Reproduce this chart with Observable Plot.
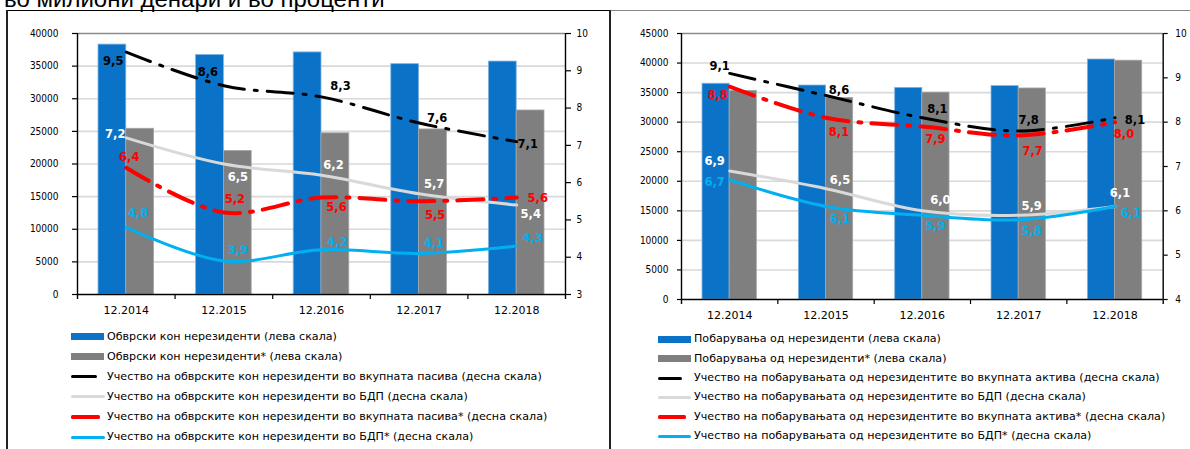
<!DOCTYPE html>
<html><head><meta charset="utf-8">
<script src="https://cdn.jsdelivr.net/npm/d3@7"></script>
<script src="https://cdn.jsdelivr.net/npm/@observablehq/plot@0.6"></script>
<style>
html,body{margin:0;padding:0;background:#fff;}
#root{position:relative;width:1190px;height:449px;overflow:hidden;background:#fff;}
.abs{position:absolute;}
.title{position:absolute;left:4px;top:-13.5px;font-family:"Liberation Sans",Arial,sans-serif;font-size:24px;line-height:24px;color:#000;white-space:nowrap;}
.legtxt{position:absolute;font-family:"DejaVu Sans",Verdana,sans-serif;font-size:11.1px;line-height:14px;color:#000;white-space:nowrap;}
.chart{position:absolute;top:0;}
.chart svg{position:absolute;left:0;top:0;max-width:none !important;}
</style></head><body>
<div id="root">
  <div class="title">во милиони денари и во проценти</div>
</div>
<script>
// ---------- data ----------
const categories = ["12.2014", "12.2015", "12.2016", "12.2017", "12.2018"];

// Left panel: liabilities to non-residents
const liabilities      = [38300, 36700, 37100, 35300, 35700];
const liabilitiesAdj   = [25400, 22000, 24700, 25300, 28200];
const liabShareTotal   = [9.5, 8.6, 8.3, 7.6, 7.1];
const liabShareGdp     = [7.2, 6.5, 6.2, 5.7, 5.4];
const liabShareTotalAdj= [6.4, 5.2, 5.6, 5.5, 5.6];
const liabShareGdpAdj  = [4.8, 3.9, 4.2, 4.1, 4.3];
const leftTicksL  = [0, 5000, 10000, 15000, 20000, 25000, 30000, 35000, 40000];
const rightTicksL = [3, 4, 5, 6, 7, 8, 9, 10];
const leftLegend = [
  "Обврски кон нерезиденти (лева скала)",
  "Обврски кон нерезиденти* (лева скала)",
  "Учество на обврските кон нерезиденти во вкупната пасива (десна скала)",
  "Учество на обврските кон нерезиденти во БДП (десна скала)",
  "Учество на обврските кон нерезиденти во вкупната пасива* (десна скала)",
  "Учество на обврските кон нерезиденти во БДП* (десна скала)"
];

// Right panel: claims on non-residents
const claims           = [36500, 36200, 35800, 36100, 40600];
const claimsAdj        = [35300, 34100, 35000, 35700, 40400];
const claimShareTotal  = [9.1, 8.6, 8.1, 7.8, 8.1];
const claimShareGdp    = [6.9, 6.5, 6.0, 5.9, 6.1];
const claimShareTotalAdj = [8.8, 8.1, 7.9, 7.7, 8.0];
const claimShareGdpAdj = [6.7, 6.1, 5.9, 5.8, 6.1];
const leftTicksR  = [0, 5000, 10000, 15000, 20000, 25000, 30000, 35000, 40000, 45000];
const rightTicksR = [4, 5, 6, 7, 8, 9, 10];
const rightLegend = [
  "Побарувања од нерезиденти (лева скала)",
  "Побарувања од нерезиденти* (лева скала)",
  "Учество на побарувањата од нерезидентите во вкупната актива (десна скала)",
  "Учество на побарувањата од нерезидентите во БДП (десна скала)",
  "Учество на побарувањата од нерезидентите во вкупната актива* (десна скала)",
  "Учество на побарувањата од нерезидентите во БДП* (десна скала)"
];

// ---------- styling / label placement (pixels) ----------
const COL = {blue: "#0b73c7", gray: "#7f7f7f", black: "#000000", lgray: "#d9d9d9", red: "#ff0000", cyan: "#00b0f0"};
const DASH = "26,10,3,10";
const nudgeL = {
  black: [[-13, 9], [-16, -13], [19, -11], [18, -5], [11, 3]],
  lgray: [[-11, -4], [14, 13], [12, -10], [15, -10], [14, 9]],
  red:   [[3, -10], [11, -13], [15, 10], [16, 14], [21, 1]],
  cyan:  [[12, -14], [14, -11], [16, -7], [15, -10], [16, -8]]
};
const nudgeR = {
  black: [[-10, -7], [13, -5], [15, -8], [10, -11], [20, 3]],
  lgray: [[-15, -10], [14, -8], [18, -11], [13, -9], [5, -13]],
  red:   [[-12, 9], [13, 15], [13, 13], [14, 16], [9, 12]],
  cyan:  [[-15, 3], [14, 13], [13, 11], [13, 12], [16, 7]]
};

const fmt = v => d3.format(".1f")(v).replace(".", ",");
const rows = vals => categories.map((c, i) => ({cat: c, value: vals[i]}));

function panel(cfg) {
  const {left, width, height, mL, mR, mT, mB, yDomain, yTicks, y2Domain, y2Ticks, barsA, barsB, lines, axL, axR} = cfg;
  const bw = (width - mL - mR) / categories.length;
  const outer = 21;
  const common = {
    width, height, marginLeft: mL, marginRight: mR, marginTop: mT, marginBottom: mB,
    x: {type: "band", domain: categories, padding: 0, round: false}
  };
  const style = {background: "transparent", fontFamily: "DejaVu Sans Condensed", fontSize: "10px", color: "#000", overflow: "visible"};
  const base = Plot.plot({
    ...common,
    y: {domain: yDomain},
    style,
    marks: [
      Plot.ruleY(yTicks.slice(1, -1), {stroke: COL.lgray, strokeWidth: 1.6}),
      Plot.ruleY([yDomain[1]], {stroke: "#8a8a8a", strokeWidth: 1.6}),
      Plot.barY(rows(barsA), {x: "cat", y: "value", fill: COL.blue, stroke: "#7fb4e3", strokeWidth: 0.8, insetLeft: outer, insetRight: bw / 2}),
      Plot.barY(rows(barsB), {x: "cat", y: "value", fill: COL.gray, stroke: "#a6a6a6", strokeWidth: 0.8, insetLeft: bw / 2, insetRight: outer}),
      Plot.ruleY([0], {stroke: "#000", strokeWidth: 1.4}),
      Plot.ruleX([categories[0]], {dx: -bw / 2, stroke: "#000", strokeWidth: 1.4, insetBottom: -5}),
      Plot.ruleX([categories[categories.length - 1]], {dx: bw / 2, stroke: "#000", strokeWidth: 1.4, insetBottom: -5}),
      Plot.ruleX(categories.slice(1), {dx: -bw / 2, y1: 0, y2: 0, insetBottom: -5, stroke: "#000", strokeWidth: 1.2}),
      Plot.axisY({anchor: "left", ticks: yTicks, tickSize: axL.size, tickPadding: axL.pad, tickFormat: d => String(d), label: null, strokeWidth: 1.2}),
      Plot.axisX({anchor: "bottom", tickSize: 0, tickPadding: 12, label: null, fontSize: 11, fontFamily: "DejaVu Sans"})
    ]
  });
  const labelMarks = [];
  for (const s of lines) {
    s.values.forEach((v, i) => {
      labelMarks.push(Plot.text([{cat: categories[i], value: v}], {
        x: "cat", y: "value", text: d => fmt(d.value),
        dx: s.nudge[i][0], dy: s.nudge[i][1],
        fill: s.labelColor, fontWeight: "bold", fontSize: 11.5, fontFamily: "DejaVu Sans",
        textAnchor: "middle", lineAnchor: "middle"
      }));
    });
  }
  const over = Plot.plot({
    ...common,
    x: {...common.x, axis: null},
    y: {domain: y2Domain},
    style,
    marks: [
      ...lines.map(s => Plot.line(rows(s.values), {
        x: "cat", y: "value", curve: "catmull-rom",
        stroke: s.color, strokeWidth: s.width, strokeDasharray: s.dash
      })),
      Plot.axisY({anchor: "right", ticks: y2Ticks, tickSize: axR.size, tickPadding: axR.pad, tickFormat: d => String(d), label: null, strokeWidth: 1.2}),
      ...labelMarks
    ]
  });
  const wrap = document.createElement("div");
  wrap.className = "chart";
  wrap.style.left = left + "px";
  wrap.style.width = width + "px";
  wrap.style.height = height + "px";
  wrap.appendChild(base);
  wrap.appendChild(over);
  document.getElementById("root").appendChild(wrap);
}

function legend(items, cfg) {
  const root = document.getElementById("root");
  items.forEach((it, i) => {
    const cy = cfg.cy0 + cfg.step * i;
    const sw = document.createElement("div");
    sw.className = "abs";
    const th = it.type === "bar" ? 7 : it.thick;
    sw.style.left = cfg.x0 + "px";
    sw.style.width = it.len + "px";
    sw.style.top = (cy - th / 2) + "px";
    sw.style.height = th + "px";
    sw.style.background = it.color;
    if (it.type !== "bar") sw.style.borderRadius = "1.5px";
    root.appendChild(sw);
    const t = document.createElement("div");
    t.className = "legtxt";
    t.style.left = cfg.tx + "px";
    t.style.top = (cy - 7) + "px";
    t.textContent = it.label;
    root.appendChild(t);
  });
}

// panel frames
function line(l, t, w, h, c) {
  const d = document.createElement("div");
  d.className = "abs";
  Object.assign(d.style, {left: l + "px", top: t + "px", width: w + "px", height: h + "px", background: c});
  document.getElementById("root").appendChild(d);
}
line(6, 10, 604, 1, "#000");
line(6, 10, 2, 439, "#222");
line(609, 10, 2, 439, "#222");
line(611, 10, 579, 1, "#888");

panel({
  left: 0, width: 610, height: 330, mL: 77, mR: 45, mT: 33, mB: 36,
  yDomain: [0, 40000], yTicks: leftTicksL, y2Domain: [3, 10], y2Ticks: rightTicksL,
  barsA: liabilities, barsB: liabilitiesAdj,
  axL: {size: 5, pad: 14}, axR: {size: 5, pad: 6},
  lines: [
    {values: liabShareTotal, color: COL.black, width: 3, dash: DASH, labelColor: "#000", nudge: nudgeL.black},
    {values: liabShareGdp, color: COL.lgray, width: 3, dash: null, labelColor: "#fff", nudge: nudgeL.lgray},
    {values: liabShareTotalAdj, color: COL.red, width: 4, dash: DASH, labelColor: COL.red, nudge: nudgeL.red},
    {values: liabShareGdpAdj, color: COL.cyan, width: 3, dash: null, labelColor: COL.cyan, nudge: nudgeL.cyan}
  ]
});

panel({
  left: 610, width: 580, height: 335, mL: 71, mR: 27.3, mT: 33, mB: 36,
  yDomain: [0, 45000], yTicks: leftTicksR, y2Domain: [4, 10], y2Ticks: rightTicksR,
  barsA: claims, barsB: claimsAdj,
  axL: {size: 4, pad: 9}, axR: {size: 4, pad: 8},
  lines: [
    {values: claimShareTotal, color: COL.black, width: 3, dash: DASH, labelColor: "#000", nudge: nudgeR.black},
    {values: claimShareGdp, color: COL.lgray, width: 3, dash: null, labelColor: "#fff", nudge: nudgeR.lgray},
    {values: claimShareTotalAdj, color: COL.red, width: 4, dash: DASH, labelColor: COL.red, nudge: nudgeR.red},
    {values: claimShareGdpAdj, color: COL.cyan, width: 3, dash: null, labelColor: COL.cyan, nudge: nudgeR.cyan}
  ]
});

const legStyle = (labels, lens) => [
  {label: labels[0], type: "bar", color: COL.blue, len: lens[0]},
  {label: labels[1], type: "bar", color: COL.gray, len: lens[1]},
  {label: labels[2], type: "line", color: COL.black, len: lens[2], thick: 3},
  {label: labels[3], type: "line", color: COL.lgray, len: lens[3], thick: 3},
  {label: labels[4], type: "line", color: COL.red, len: lens[4], thick: 4},
  {label: labels[5], type: "line", color: COL.cyan, len: lens[5], thick: 3}
];
legend(legStyle(leftLegend, [33, 33, 26, 34, 29, 34]), {x0: 70.5, tx: 107, cy0: 336.7, step: 20.07});
legend(legStyle(rightLegend, [33, 33, 24, 33, 28, 33]), {x0: 658, tx: 694, cy0: 339.3, step: 19.35});
</script>
</body></html>
